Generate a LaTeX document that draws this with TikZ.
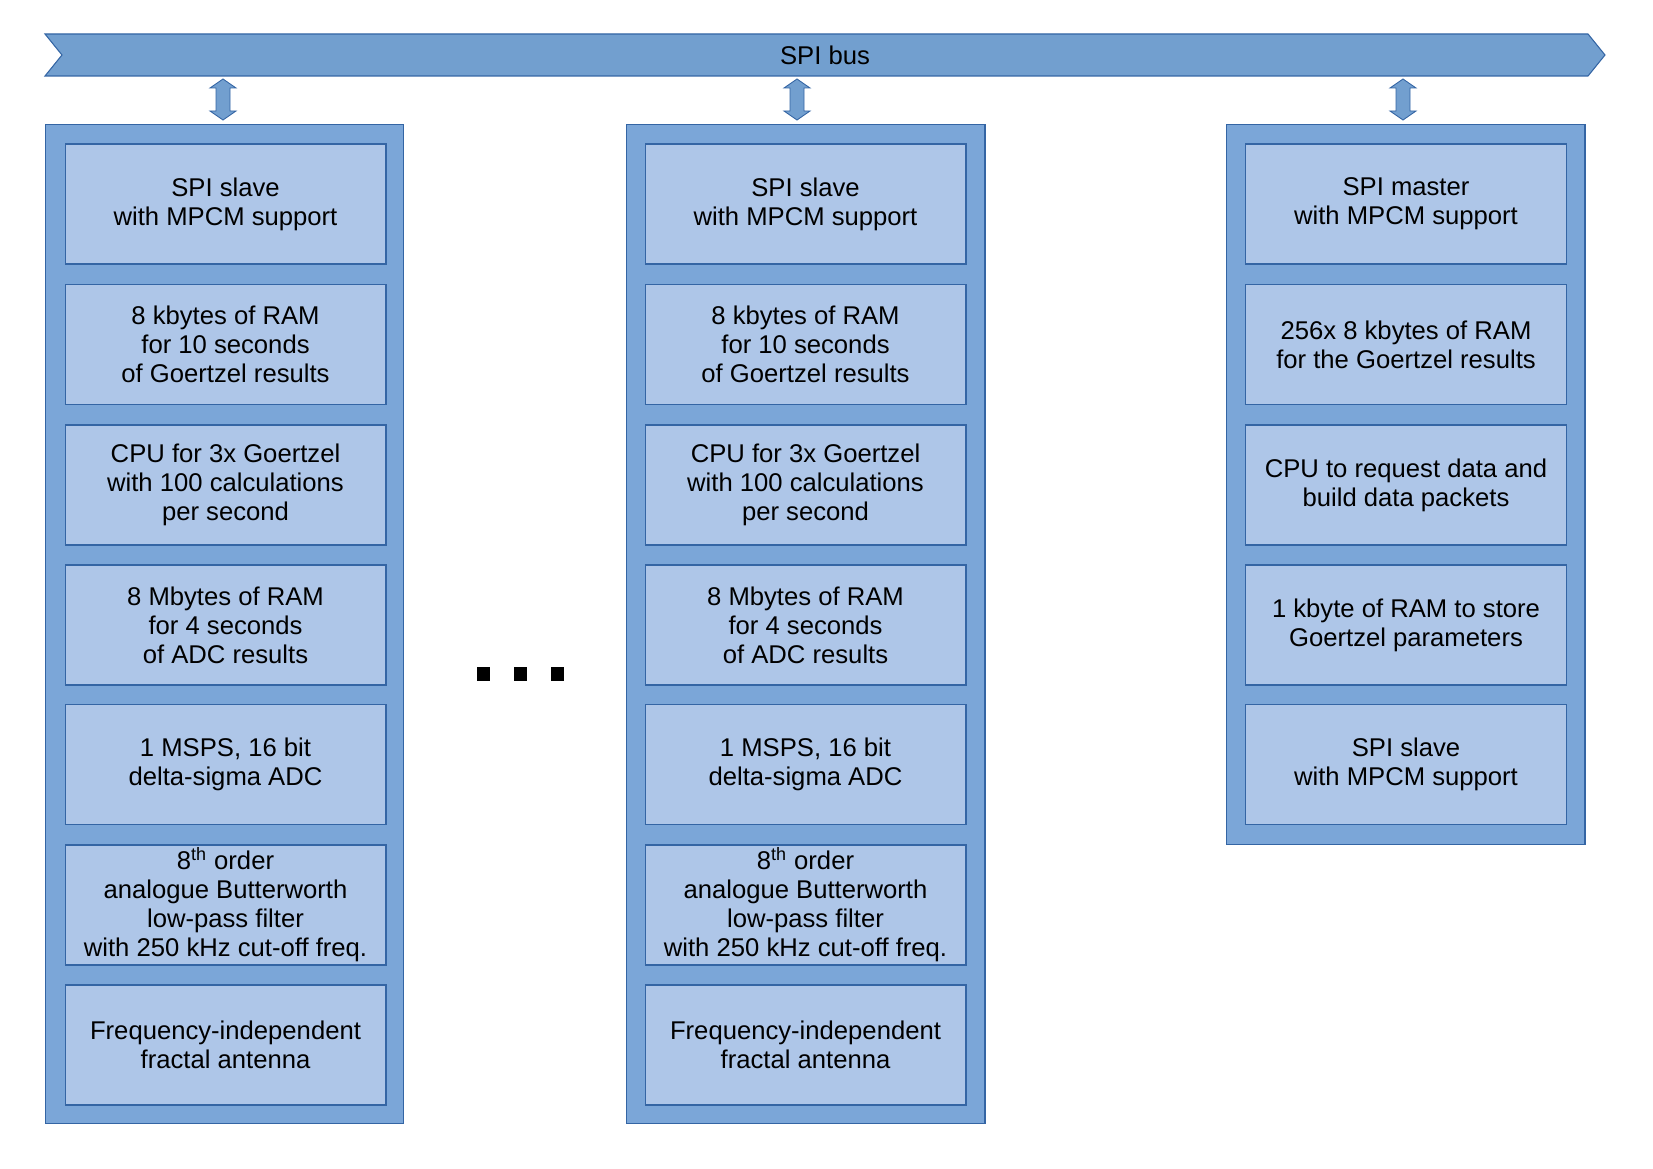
\documentclass[tikz,border=0pt]{standalone}
\usepackage{fontspec}
\setmainfont{Liberation Sans}
\usetikzlibrary{positioning}
\definecolor{busblue}{HTML}{729FCF}
\definecolor{lineblue}{HTML}{3465A4}
\definecolor{frameblue}{HTML}{7BA6D8}
\definecolor{cellblue}{HTML}{AEC6E8}

\begin{document}
\begin{tikzpicture}[x=0.02cm,y=-0.02cm,
  txt/.style={font=\fontsize{14.6}{16.5}\selectfont, align=center, inner sep=0pt},
  frame/.style={draw=lineblue, fill=frameblue, line width=0.6pt, minimum width=7.18cm, inner sep=0pt},
  cell/.style={txt, draw=lineblue, fill=cellblue, line width=0.6pt, minimum width=6.42cm, minimum height=2.4cm}]
\useasboundingbox (0,0) rectangle (1653,1169);
% SPI bus
\draw[lineblue, fill=busblue, line width=0.6pt] (45,34) -- (1588,34) -- (1605,55) -- (1588,76) -- (45,76) -- (62,55) -- cycle;
\node[txt] (bus) at (825,55) {SPI bus};
% Column frames
\node[frame, minimum height=20cm] (col1) at (224.5,624) {};
\node[frame, minimum height=20cm] (col2) at (805.5,624) {};
\node[frame, minimum height=14.42cm] (col3) at (1405.5,484.5) {};
% Double arrows between bus and columns
\foreach \c/\x in {1/223, 2/797, 3/1403} {
    \fill[busblue, draw=lineblue, line width=0.5pt] (\x,79) -- (\x+13,88) -- (\x+7,88) -- (\x+7,111) -- (\x+13,111) -- (\x,120)
        -- (\x-13,111) -- (\x-7,111) -- (\x-7,88) -- (\x-13,88) -- cycle;
}
% Slave columns
\foreach \c/\x in {1/225.5, 2/805.5} {
    \node[cell] (c\c r1) at (\x,204) {SPI slave\\with MPCM support};
    \node[cell] (c\c r2) at (\x,344.5) {8 kbytes of RAM\\for 10 seconds\\of Goertzel results};
    \node[cell] (c\c r3) at (\x,485) {CPU for 3x Goertzel\\with 100 calculations\\per second};
    \node[cell] (c\c r4) at (\x,625) {8 Mbytes of RAM\\for 4 seconds\\of ADC results};
    \node[cell] (c\c r5) at (\x,764.5) {1 MSPS, 16 bit\\delta-sigma ADC};
    \node[cell] (c\c r6) at (\x,905) {8\textsuperscript{th} order\\analogue Butterworth\\low-pass filter\\with 250 kHz cut-off freq.};
    \node[cell] (c\c r7) at (\x,1045) {Frequency-independent\\fractal antenna};
}
% Master column
\node[cell] (c3r1) at (1406,204) {SPI master\\with MPCM support};
\node[cell] (c3r2) at (1406,344.5) {256x 8 kbytes of RAM\\for the Goertzel results};
\node[cell] (c3r3) at (1406,485) {CPU to request data and\\build data packets};
\node[cell] (c3r4) at (1406,625) {1 kbyte of RAM to store\\Goertzel parameters};
\node[cell] (c3r5) at (1406,764.5) {SPI slave\\with MPCM support};
% Dots
\foreach \x in {483.5, 520.5, 557.5} {
    \fill (\x-6.5,667) rectangle (\x+6.5,681);
}
\end{tikzpicture}
\end{document}
